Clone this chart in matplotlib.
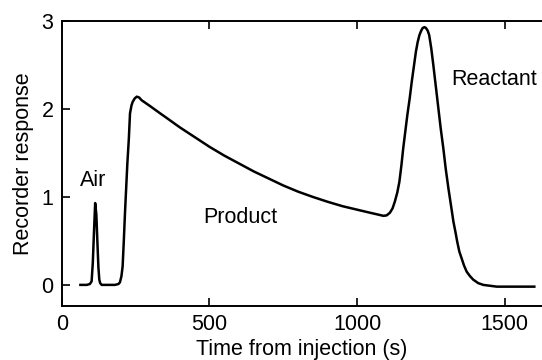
import matplotlib
matplotlib.use("Agg")
import matplotlib.pyplot as plt

plt.rcParams['font.family'] = ['Liberation Sans', 'DejaVu Sans']

# chromatogram trace
time_s = [63, 85, 95, 101, 105, 109, 113, 117, 121, 124, 127, 130, 135, 140,
          180, 192, 197, 202, 206, 210, 214, 218, 222, 227, 231, 236, 240,
          247, 254, 262, 270,
          300, 333, 350, 400, 450, 500, 550, 600, 650, 700, 750, 800, 850,
          900, 950, 1000, 1044, 1070, 1089, 1100, 1111, 1120, 1128, 1136,
          1143, 1150, 1156, 1163, 1170, 1178, 1185, 1192, 1199, 1205, 1211,
          1217, 1222, 1228, 1233, 1239, 1244, 1251, 1258, 1266, 1275, 1283,
          1292, 1300, 1309, 1318, 1326, 1333, 1339, 1346, 1354, 1362, 1371,
          1382, 1393, 1410, 1427, 1450, 1473, 1600]
response = [0.0, 0.0, 0.01, 0.04, 0.25, 0.6, 0.93, 0.8, 0.45, 0.2, 0.06,
            0.02, 0.0, 0.0,
            0.0, 0.01, 0.03, 0.1, 0.21, 0.5, 0.82, 1.1, 1.38, 1.66, 1.95,
            2.04, 2.08, 2.12, 2.14, 2.13, 2.1,
            2.03, 1.95, 1.91, 1.79, 1.68, 1.57, 1.47, 1.38, 1.29, 1.21, 1.13,
            1.06, 1.0, 0.945, 0.895, 0.855, 0.82, 0.8, 0.785, 0.79, 0.82, 0.87,
            0.95, 1.05, 1.17, 1.36, 1.55, 1.74, 1.93, 2.12, 2.31, 2.48, 2.65,
            2.76, 2.84, 2.89, 2.92, 2.93, 2.92, 2.89, 2.84, 2.69, 2.5, 2.27,
            2.01, 1.78, 1.55, 1.32, 1.1, 0.9, 0.72, 0.6, 0.49, 0.38, 0.3,
            0.22, 0.15, 0.1, 0.06, 0.02, 0.0, -0.01, -0.02, -0.02]

peak_names = ["Air", "Product", "Reactant"]
peak_x = [106, 604, 1465]
peak_y = [1.19, 0.77, 2.34]

fig = plt.figure(figsize=(5.42, 3.6), dpi=100)
ax = fig.add_axes([0.114, 0.15, 0.886, 0.7917])

ax.plot(time_s, response, color='black', lw=1.8, solid_joinstyle='round')

for name, px, py in zip(peak_names, peak_x, peak_y):
    ax.text(px, py, name, ha='center', va='center', fontsize=15.5)

ax.set_xlim(0, 1626)
ax.set_ylim(-0.24, 3.0)
ax.set_xticks([0, 500, 1000, 1500])
ax.set_yticks([0, 1, 2, 3])
ax.tick_params(direction='in', length=6, width=1.2, labelsize=15.5,
               top=True, pad=6)
ax.spines['right'].set_visible(False)
for s in ['left', 'top', 'bottom']:
    ax.spines[s].set_linewidth(1.4)

ax.set_xlabel("Time from injection (s)", fontsize=15.5, labelpad=3)
ax.set_ylabel("Recorder response", fontsize=15.5, labelpad=5)

fig.savefig("out.png", dpi=100)
